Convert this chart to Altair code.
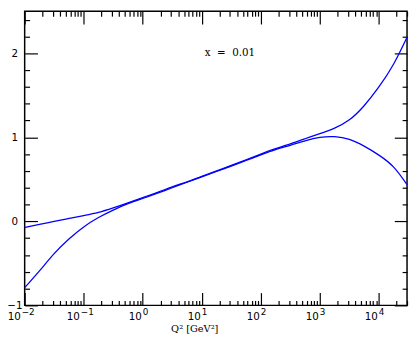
import altair as alt
import pandas as pd

# Q^2 sample points (GeV^2), quarter-decade steps
q2 = [0.01, 0.0178, 0.0316, 0.0562, 0.1, 0.178, 0.316, 0.562, 1.0, 1.78, 3.16, 5.62,
      10.0, 17.8, 31.6, 56.2, 100.0, 178.0, 316.0, 562.0, 1000.0, 1780.0, 3160.0, 5620.0,
      10000.0, 17800.0, 30000.0]
upper = [-0.073, -0.037, -0.001, 0.034, 0.069, 0.107, 0.16, 0.22, 0.283, 0.345, 0.41, 0.47,
         0.535, 0.60, 0.665, 0.732, 0.80, 0.865, 0.923, 0.983, 1.044, 1.11, 1.208, 1.376,
         1.599, 1.873, 2.19]
lower = [-0.79, -0.59, -0.385, -0.211, -0.067, 0.045, 0.134, 0.21, 0.272, 0.335, 0.40, 0.465,
         0.528, 0.593, 0.658, 0.724, 0.79, 0.853, 0.905, 0.957, 0.998, 1.007, 0.975, 0.895,
         0.788, 0.645, 0.437]

x_major = [0.01, 0.1, 1, 10, 100, 1000, 10000]
x_exponents = ["\u22122", "\u22121", "0", "1", "2", "3", "4"]
x_minor = [m * 10.0 ** k for k in range(-2, 5) for m in range(2, 10) if m * 10.0 ** k <= 30000]
y_major = [-1, 0, 1, 2]
y_minor = [-0.8, -0.6, -0.4, -0.2, 0.2, 0.4, 0.6, 0.8, 1.2, 1.4, 1.6, 1.8, 2.2, 2.4]

annot_text = ["x\u00a0\u00a0=\u00a0\u00a00.01"]
annot_q2 = [30.0]
annot_v = [2.0]

df = pd.DataFrame({
    "q2": q2 + q2,
    "v": upper + lower,
    "series": ["a"] * len(q2) + ["b"] * len(q2),
})
ann = pd.DataFrame({"q2": annot_q2, "v": annot_v, "t": annot_text})

xs = alt.Scale(type="log", domain=[0.01, 30000], nice=False)
ys = alt.Scale(domain=[-1, 2.5], nice=False, zero=False)

MAJ, MIN = 13, 5


def xaxis(orient, values, size, title=None):
    return alt.Axis(orient=orient, values=values, tickSize=size, offset=-size, domain=False,
                    grid=False, labels=False, title=title)


def yaxis(orient, values, size, labels=False):
    kw = dict(orient=orient, values=values, tickSize=size, offset=-size, domain=False,
              grid=False, labels=labels, labelFlush=False, labelOverlap=False, title=None)
    if labels:
        kw.update(labelAlign="center", labelBaseline="middle", labelPadding=10.5,
                  labelFont="DejaVu Sans", labelFontSize=10.5)
    return alt.Axis(**kw)


# main x axis: "10" part of the labels + title
x_main_axis = alt.Axis(
    orient="bottom", values=x_major, tickSize=MAJ, offset=-MAJ, domain=False, grid=False,
    labels=True, labelExpr="'10'", labelAlign="right", labelBaseline="alphabetic",
    labelOffset={"condition": {"test": "datum.value < 1", "value": -4.5}, "value": -1.5},
    labelPadding=14.3, labelFlush=False, labelOverlap=False,
    labelFont="DejaVu Sans", labelFontSize=10.5,
    title="Q\u00b2  [GeV\u00b2]", titleFont="DejaVu Serif", titleFontSize=10,
    titleFontWeight="normal", titleX=173, titleY=36.5, titleAlign="center", titleBaseline="middle",
)

expo_expr = "[" + ",".join("'%s'" % e for e in x_exponents) + "][round(log(datum.value)/LN10)+2]"
x_expo_axis = alt.Axis(
    orient="bottom", values=x_major, ticks=False, tickSize=0, offset=0, domain=False, grid=False,
    labels=True, labelExpr=expo_expr, labelAlign="left", labelBaseline="alphabetic",
    labelOffset={"condition": {"test": "datum.value < 1", "value": -3.5}, "value": -0.5},
    labelPadding=9, labelFlush=False, labelOverlap=False,
    labelFont="DejaVu Sans", labelFontSize=9, title=None,
)

lines = alt.Chart(df).mark_line(color="#0000ff", strokeWidth=1.3, interpolate="natural").encode(
    x=alt.X("q2:Q", scale=xs, axis=x_main_axis),
    y=alt.Y("v:Q", scale=ys, axis=yaxis("left", y_major, MAJ, labels=True)),
    detail="series:N",
)

text = alt.Chart(ann).mark_text(font="DejaVu Serif", fontSize=10.5, color="black",
                                align="center", baseline="middle").encode(
    x=alt.X("q2:Q", scale=xs, axis=xaxis("bottom", x_minor, MIN)),
    y=alt.Y("v:Q", scale=ys, axis=yaxis("left", y_minor, MIN)),
    text="t:N",
)

ghost1 = alt.Chart(df).mark_point(opacity=0).encode(
    x=alt.X("q2:Q", scale=xs, axis=xaxis("top", x_major, MAJ)),
    y=alt.Y("v:Q", scale=ys, axis=yaxis("right", y_major, MAJ)),
)
ghost2 = alt.Chart(df).mark_point(opacity=0).encode(
    x=alt.X("q2:Q", scale=xs, axis=xaxis("top", x_minor, MIN)),
    y=alt.Y("v:Q", scale=ys, axis=yaxis("right", y_minor, MIN)),
)
ghost3 = alt.Chart(df).mark_point(opacity=0).encode(
    x=alt.X("q2:Q", scale=xs, axis=x_expo_axis),
    y=alt.Y("v:Q", scale=ys, axis=None),
)

chart = alt.layer(lines, text, ghost1, ghost2, ghost3).resolve_axis(
    x="independent", y="independent"
).properties(
    width=390, height=300,
    autosize=alt.AutoSizeParams(type="none"),
    padding={"left": 17, "top": 0, "right": 2, "bottom": 32},
).configure_view(
    stroke="black", strokeWidth=1.5
).configure_axis(
    tickColor="black", tickWidth=1.2, labelColor="black", titleColor="black"
)

chart.save("out.html", embed_options={"renderer": "svg", "actions": False})
